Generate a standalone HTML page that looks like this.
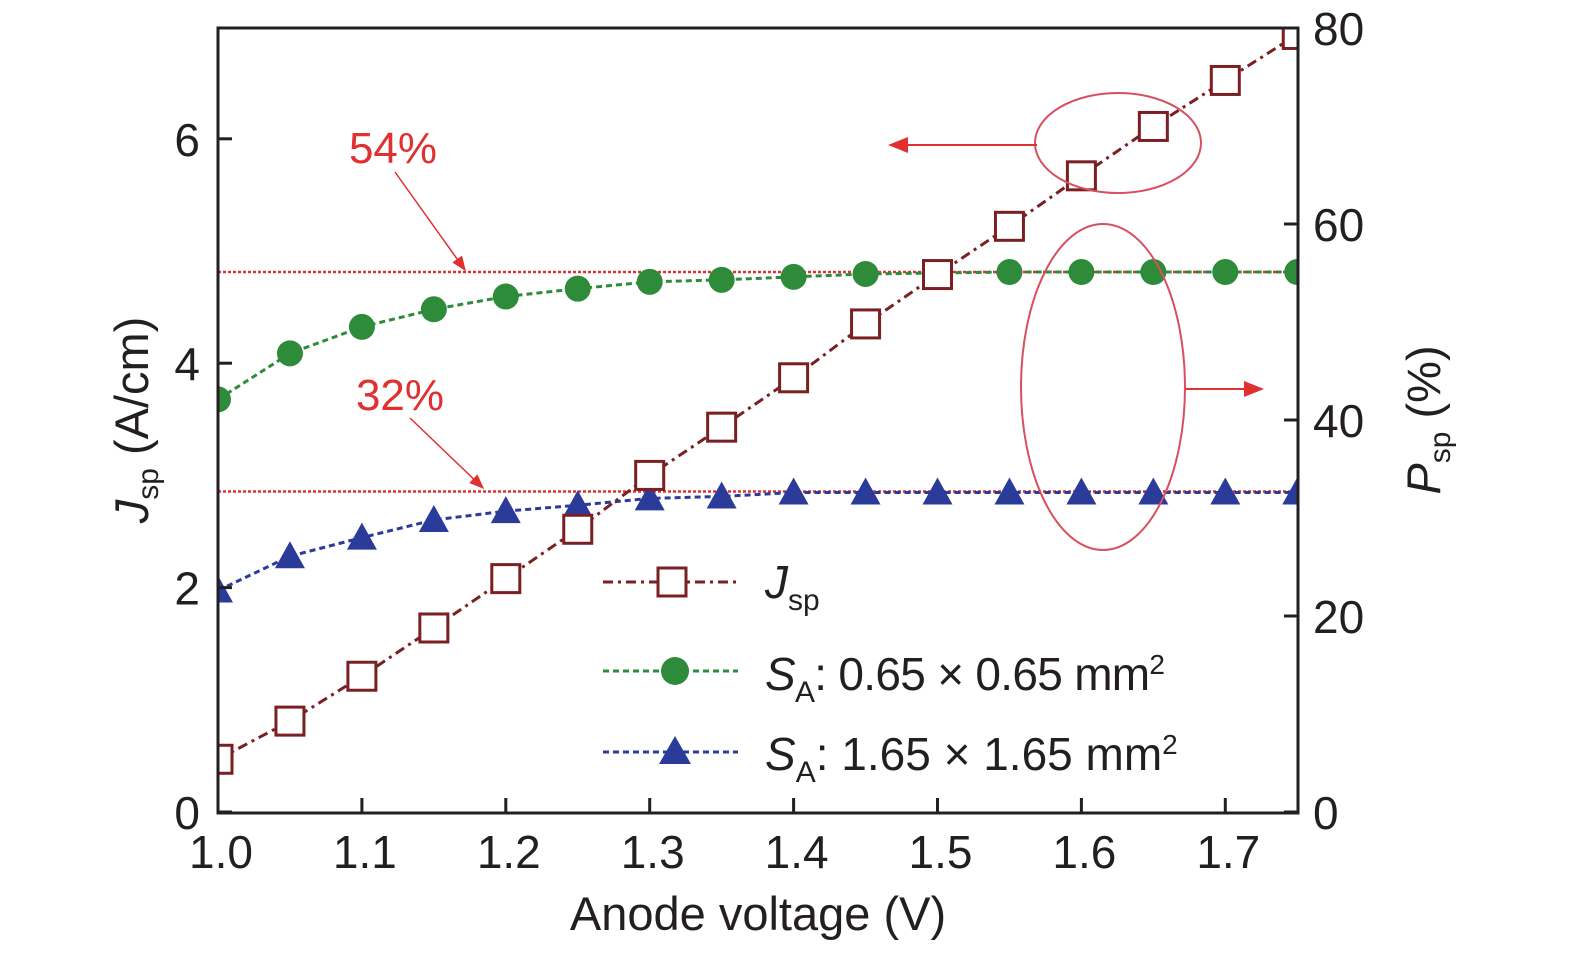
<!DOCTYPE html>
<html><head><meta charset="utf-8"><style>
body{margin:0;background:#fff;width:1575px;height:949px;overflow:hidden}
svg text{font-family:"Liberation Sans",sans-serif;fill:#231f20}
</style></head><body>
<svg id="chart" width="1575" height="949" xmlns="http://www.w3.org/2000/svg">
<defs><marker id="ah" markerWidth="10" markerHeight="8" refX="9" refY="4" orient="auto"><path d="M0,0 L10,4 L0,8 z" fill="#e03030"/></marker></defs>
<g id="marks"></g>
<rect x="218" y="28" width="1080" height="785" fill="none" stroke="#231f20" stroke-width="3"/>
<g id="axes"></g>
<text x="758" y="930" font-size="47" text-anchor="middle">Anode voltage (V)</text>
<text transform="translate(148,420) rotate(-90)" font-size="47" text-anchor="middle"><tspan font-style="italic">J</tspan><tspan font-size="30" dy="10">sp</tspan><tspan dy="-10"> (A/cm)</tspan></text>
<text transform="translate(1440,420) rotate(-90)" font-size="47" text-anchor="middle"><tspan font-style="italic">P</tspan><tspan font-size="30" dy="10">sp</tspan><tspan dy="-10"> (%)</tspan></text>
<g>
<text x="393" y="163" font-size="44" style="fill:#e03030" text-anchor="middle">54%</text>
<line x1="395" y1="172" x2="465" y2="270" stroke="#e03030" stroke-width="1.5" marker-end="url(#ah)"/>
<text x="400" y="410" font-size="44" style="fill:#e03030" text-anchor="middle">32%</text>
<line x1="410" y1="418" x2="483" y2="488" stroke="#e03030" stroke-width="1.5" marker-end="url(#ah)"/>
<ellipse cx="1118" cy="143" rx="83" ry="50" fill="none" stroke="#d85060" stroke-width="2"/>
<line x1="1037" y1="145" x2="890" y2="145" stroke="#e03030" stroke-width="2" marker-end="url(#ah)"/>
<ellipse cx="1103" cy="387" rx="82" ry="163" fill="none" stroke="#d85060" stroke-width="2"/>
<line x1="1186" y1="389" x2="1262" y2="389" stroke="#e03030" stroke-width="2" marker-end="url(#ah)"/>
</g>
<g>
<line x1="603" y1="582" x2="738" y2="582" stroke="#7a1f22" stroke-width="3" stroke-dasharray="10,5,3,5"/>
<rect x="658" y="568" width="28" height="28" fill="#fff" stroke="#7a1f22" stroke-width="3"/>
<text x="765" y="598" font-size="46"><tspan font-style="italic">J</tspan><tspan font-size="30" dy="12">sp</tspan></text>
<line x1="603" y1="671" x2="738" y2="671" stroke="#2e8b3a" stroke-width="3" stroke-dasharray="6,4"/>
<circle cx="675" cy="671" r="14" fill="#2e8b3a"/>
<text x="765" y="690" font-size="46" textLength="400"><tspan font-style="italic">S</tspan><tspan font-size="30" dy="12">A</tspan><tspan dy="-12">: 0.65 × 0.65 mm</tspan><tspan font-size="28" dy="-16">2</tspan></text>
<line x1="603" y1="752" x2="738" y2="752" stroke="#2b3b9a" stroke-width="3" stroke-dasharray="6,4"/>
<polygon points="675,736 691,764 659,764" fill="#2b3b9a"/>
<text x="765" y="770" font-size="46"><tspan font-style="italic">S</tspan><tspan font-size="30" dy="12">A</tspan><tspan dy="-12">: 1.65 × 1.65 mm</tspan><tspan font-size="28" dy="-16">2</tspan></text>
</g>
</svg>
<script>
const voltages=[1.0,1.05,1.1,1.15,1.2,1.25,1.3,1.35,1.4,1.45,1.5,1.55,1.6,1.65,1.7,1.75];
const jsp=[0.47,0.81,1.21,1.64,2.08,2.52,3.0,3.43,3.87,4.35,4.79,5.22,5.67,6.11,6.52,6.93];
const psmall=[42.1,46.8,49.5,51.3,52.6,53.4,54.1,54.3,54.6,54.9,55.0,55.1,55.1,55.1,55.1,55.1];
const plarge=[22.6,26.1,28.0,29.8,30.7,31.3,32.0,32.2,32.6,32.6,32.6,32.6,32.6,32.6,32.6,32.6];
const refLines=[55.1,32.7];
const xTicks=[1.0,1.1,1.2,1.3,1.4,1.5,1.6,1.7];
const yLTicks=[0,2,4,6];
const yRTicks=[0,20,40,60,80];
const X=v=>218+(v-1.0)*1439;
const YL=v=>812-v*112.2;
const YR=v=>812-v*9.8;
const NS="http://www.w3.org/2000/svg";
const marks=document.getElementById('marks'),axes=document.getElementById('axes');
function mk(t,a,p){const e=document.createElementNS(NS,t);for(const k in a)e.setAttribute(k,a[k]);(p||marks).appendChild(e);return e;}
refLines.forEach(r=>{const l=mk('line',{x1:218,x2:1298,y1:YR(r),y2:YR(r),stroke:'#e03030','stroke-width':2.5,'stroke-dasharray':'3,2'});

});
function line(vals,Y,col,dash,name){const p=mk('polyline',{points:voltages.map((v,i)=>X(v)+','+Y(vals[i])).join(' '),fill:'none',stroke:col,'stroke-width':3,'stroke-dasharray':dash});

}
line(psmall,YR,'#2e8b3a','6,4','line-small-area');
line(plarge,YR,'#2b3b9a','6,4','line-large-area');
line(jsp,YL,'#7a1f22','10,5,3,5','line-jsp');
voltages.forEach((v,i)=>{
 const c=mk('circle',{cx:X(v),cy:YR(psmall[i]),r:13,fill:'#2e8b3a'});
 
 
 const x=X(v),y=YR(plarge[i]);
 const t=mk('polygon',{points:`${x},${y-15} ${x+15},${y+12} ${x-15},${y+12}`,fill:'#2b3b9a'});
 
 
});
voltages.forEach((v,i)=>{
 const r=mk('rect',{x:X(v)-14,y:YL(jsp[i])-14,width:28,height:28,fill:'#fff',stroke:'#7a1f22','stroke-width':3});
 
 
});
marks.setAttribute('clip-path','url(#cp)');
const cp=document.createElementNS(NS,'clipPath');cp.id='cp';const cr=document.createElementNS(NS,'rect');
cr.setAttribute('x',218);cr.setAttribute('y',28);cr.setAttribute('width',1080);cr.setAttribute('height',785);cp.appendChild(cr);document.querySelector('defs').appendChild(cp);
xTicks.forEach(v=>{mk('line',{x1:X(v),x2:X(v),y1:812,y2:798,stroke:'#231f20','stroke-width':3},axes);
 const t=mk('text',{x:X(v)+3,y:868,'font-size':46,'text-anchor':'middle'},axes);t.textContent=v.toFixed(1);
 
 });
yLTicks.forEach(v=>{mk('line',{x1:218,x2:232,y1:YL(v),y2:YL(v),stroke:'#231f20','stroke-width':3},axes);
 const t=mk('text',{x:200,y:YL(v)+17,'font-size':46,'text-anchor':'end'},axes);t.textContent=v;
 
 });
yRTicks.forEach(v=>{mk('line',{x1:1284,x2:1298,y1:YR(v),y2:YR(v),stroke:'#231f20','stroke-width':3},axes);
 const t=mk('text',{x:1313,y:YR(v)+17,'font-size':46},axes);t.textContent=v;
 
 });
</script>
</body></html>
